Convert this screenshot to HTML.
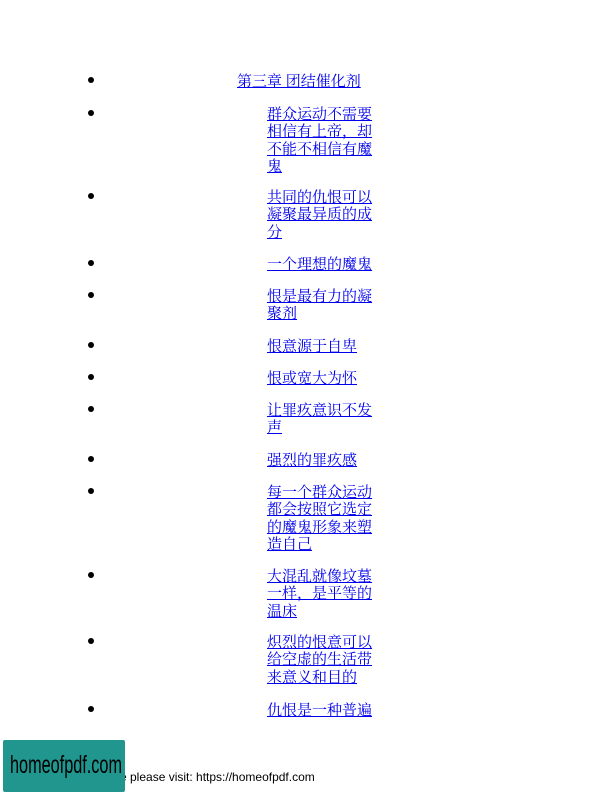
<!DOCTYPE html>
<html><head><meta charset="utf-8">
<style>
body{margin:0;width:612px;height:792px;background:#fff;position:relative;overflow:hidden;font-family:"Liberation Serif","Noto Serif CJK SC",serif;}
.b{position:absolute;left:88px;width:6px;height:6px;border-radius:50%;background:#000;}
.t{position:absolute;left:267px;font-size:15px;line-height:17.4px;color:#00e;text-decoration:underline;white-space:nowrap;margin-top:3px;}
.foot{position:absolute;left:120px;top:770px;font-family:"Liberation Sans",sans-serif;font-size:12px;color:#000;}
.logo{position:absolute;left:3px;top:740px;width:122px;height:52px;background:#21968f;border-radius:2px;z-index:2;overflow:hidden;}
.logo span{position:absolute;left:7px;top:11px;font-family:"Liberation Sans Narrow","Liberation Sans",sans-serif;font-size:25px;color:#000;transform:scaleX(0.65);transform-origin:left top;white-space:nowrap;}
</style></head><body>
<div class="b" style="top:77px"></div>
<div class="t" style="left:237px;top:71px">第三章 团结催化剂</div>

<div class="b" style="top:110px"></div>
<div class="t" style="top:104px">群众运动不需要<br>相信有上帝，却<br>不能不相信有魔<br>鬼</div>

<div class="b" style="top:193px"></div>
<div class="t" style="top:187px">共同的仇恨可以<br>凝聚最异质的成<br>分</div>

<div class="b" style="top:260px"></div>
<div class="t" style="top:254px">一个理想的魔鬼</div>

<div class="b" style="top:292px"></div>
<div class="t" style="top:286px">恨是最有力的凝<br>聚剂</div>

<div class="b" style="top:342px"></div>
<div class="t" style="top:336px">恨意源于自卑</div>

<div class="b" style="top:374px"></div>
<div class="t" style="top:368px">恨或宽大为怀</div>

<div class="b" style="top:406px"></div>
<div class="t" style="top:400px">让罪疚意识不发<br>声</div>

<div class="b" style="top:456px"></div>
<div class="t" style="top:450px">强烈的罪疚感</div>

<div class="b" style="top:488px"></div>
<div class="t" style="top:482px">每一个群众运动<br>都会按照它选定<br>的魔鬼形象来塑<br>造自己</div>

<div class="b" style="top:572px"></div>
<div class="t" style="top:566px">大混乱就像坟墓<br>一样，是平等的<br>温床</div>

<div class="b" style="top:638px"></div>
<div class="t" style="top:632px">炽烈的恨意可以<br>给空虚的生活带<br>来意义和目的</div>

<div class="b" style="top:706px"></div>
<div class="t" style="top:700px">仇恨是一种普遍</div>

<div class="foot">e please visit: https://homeofpdf.com</div>
<div class="logo"><span>homeofpdf.com</span></div>
</body></html>
